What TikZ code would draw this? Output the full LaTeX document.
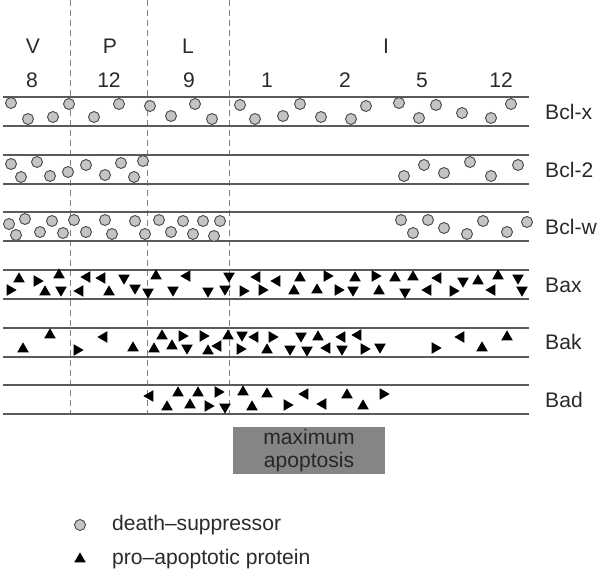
\documentclass[tikz,border=0pt]{standalone}
\usepackage{fontspec}
\setmainfont{Liberation Sans}
\usepackage{tikz}
\usetikzlibrary{positioning}
\definecolor{txtgray}{HTML}{2A2A2A}
\definecolor{linegray}{HTML}{5A5A5A}
\definecolor{dotgray}{HTML}{C4C4C4}
\definecolor{ringgray}{HTML}{4A4A4A}
\definecolor{boxgray}{HTML}{858585}
\tikzset{lbl/.style={text=txtgray, font=\fontsize{18}{20}\selectfont, inner sep=0pt},
    rowline/.style={draw=linegray, line width=1.2pt},
    divider/.style={draw=gray, line width=.6pt, dash pattern=on 1.8mm off 1.2mm},
    supp/.pic={\draw[draw=ringgray, fill=dotgray, line width=.8pt] (0,0) circle[radius=1.65mm];},
    prot/.pic={\fill[black] (#1:2mm) -- (#1+120:2mm) -- (#1+240:2mm) -- cycle;}}

\begin{document}
\begin{tikzpicture}[x=0.03cm, y=-0.03cm]
    \useasboundingbox (0,0) rectangle (600,570);

    % stage dividers
    \foreach \x in {70,147,229}
        \draw[divider] (\x,0) -- (\x,415);

    % header
    \node[lbl] (v) at (33,46) {V};
    \node[lbl] (p) at (110,46) {P};
    \node[lbl] (l) at (188,46) {L};
    \node[lbl] (i) at (386,46) {I};
    \node[lbl] (d8) at (32,80) {8};
    \node[lbl] (d12a) at (109,80) {12};
    \node[lbl] (d9) at (189,80) {9};
    \node[lbl] (d1) at (267,80) {1};
    \node[lbl] (d2) at (345,80) {2};
    \node[lbl] (d5) at (422,80) {5};
    \node[lbl] (d12b) at (501,80) {12};

    % rows
    \foreach \t in {97,155,212,270,328,385}{
        \draw[rowline] (3,\t) -- (529,\t);
        \draw[rowline] (3,\t+29) -- (529,\t+29);
    }
    \node[lbl, anchor=west] (bclx) at (545,112) {Bcl-x};
    \node[lbl, anchor=west] (bcltwo) at (545,170) {Bcl-2};
    \node[lbl, anchor=west] (bclw) at (545,227) {Bcl-w};
    \node[lbl, anchor=west] (bax) at (545,285) {Bax};
    \node[lbl, anchor=west] (bak) at (545,342) {Bak};
    \node[lbl, anchor=west] (bad) at (545,400) {Bad};

    % death-suppressors
    \foreach \x/\y in {11/103, 28/119, 53/117, 69/104, 94/117, 119/104, 150/106, 171/116,
        195/104, 212/119, 240/105, 255/119, 283/116, 300/104, 321/117, 351/119, 366/106,
        399/103, 419/118, 436/105, 462/113, 491/118, 511/104}
        \pic at (\x,\y) {supp};
    \foreach \x/\y in {11/164, 21/177, 37/162, 50/176, 68/172, 86/165, 105/175, 121/163,
        134/177, 143/161, 404/176, 424/165, 444/173, 470/162, 491/176, 518/165}
        \pic at (\x,\y) {supp};
    \foreach \x/\y in {9/224, 16/235, 25/219, 40/232, 52/221, 63/233, 74/220, 86/232,
        105/220, 112/234, 135/221, 145/234, 159/220, 171/232, 183/221, 193/234, 203/221,
        214/236, 220/221, 401/220, 413/233, 428/220, 444/228, 467/234, 483/221, 507/232, 527/222}
        \pic at (\x,\y) {supp};

    % pro-apoptotic proteins
    \foreach \x/\y/\a in {19/279/90, 10/290/0, 37/281/0, 45/292/90, 59/275/90, 61/290/270,
        87/277/180, 102/278/180, 124/278/270, 80/291/180, 109/292/90, 135/288/270, 156/276/90,
        148/292/270, 173/290/270, 187/276/180, 208/291/270, 229/276/270, 225/289/270, 243/291/0,
        257/277/180, 262/290/0, 277/281/180, 300/278/90, 294/291/90, 327/276/0, 317/290/90,
        338/290/0, 355/278/90, 353/290/270, 375/276/0, 379/291/90, 395/278/90, 405/292/270,
        413/277/90, 428/290/180, 438/278/180, 453/291/0, 463/281/270, 478/281/90, 492/290/180,
        498/276/90, 518/278/270, 522/290/270}
        \pic at (\x,\y) {prot=\a};
    \foreach \x/\y/\a in {23/349/90, 50/335/90, 77/350/0, 104/337/180, 133/348/90, 154/349/90,
        162/336/90, 172/346/90, 182/336/0, 187/348/270, 203/336/0, 208/351/90, 218/346/180,
        228/336/90, 240/349/0, 242/335/270, 255/337/180, 267/350/90, 272/337/0, 290/349/270,
        301/336/270, 307/350/270, 318/337/90, 327/348/180, 342/337/180, 342/349/270,
        358/335/180, 364/349/0, 380/347/270, 435/348/0, 461/337/180, 482/348/90, 507/337/90}
        \pic at (\x,\y) {prot=\a};
    \foreach \x/\y/\a in {150/396/180, 167/407/90, 178/393/90, 190/405/90, 198/393/90,
        208/406/0, 218/392/0, 225/407/270, 243/392/90, 252/407/90, 267/394/90, 287/405/0,
        305/394/180, 323/404/180, 347/395/90, 363/406/90, 383/394/0}
        \pic at (\x,\y) {prot=\a};

    % apoptosis window
    \fill[boxgray] (233,427) rectangle (385,474);
    \node[lbl, text=black!85, align=center] (maxap) at (309,450.5) {maximum\\apoptosis};

    % legend
    \pic at (80,525) {supp};
    \pic at (80,559) {prot=90};
    \coordinate (keyone) at (100,525);
    \coordinate (keytwo) at (100,559);
    \node[lbl, anchor=west, right=12 of keyone] (dstext) {death–suppressor};
    \node[lbl, anchor=west, right=12 of keytwo] (patext) {pro–apoptotic protein};
\end{tikzpicture}
\end{document}
